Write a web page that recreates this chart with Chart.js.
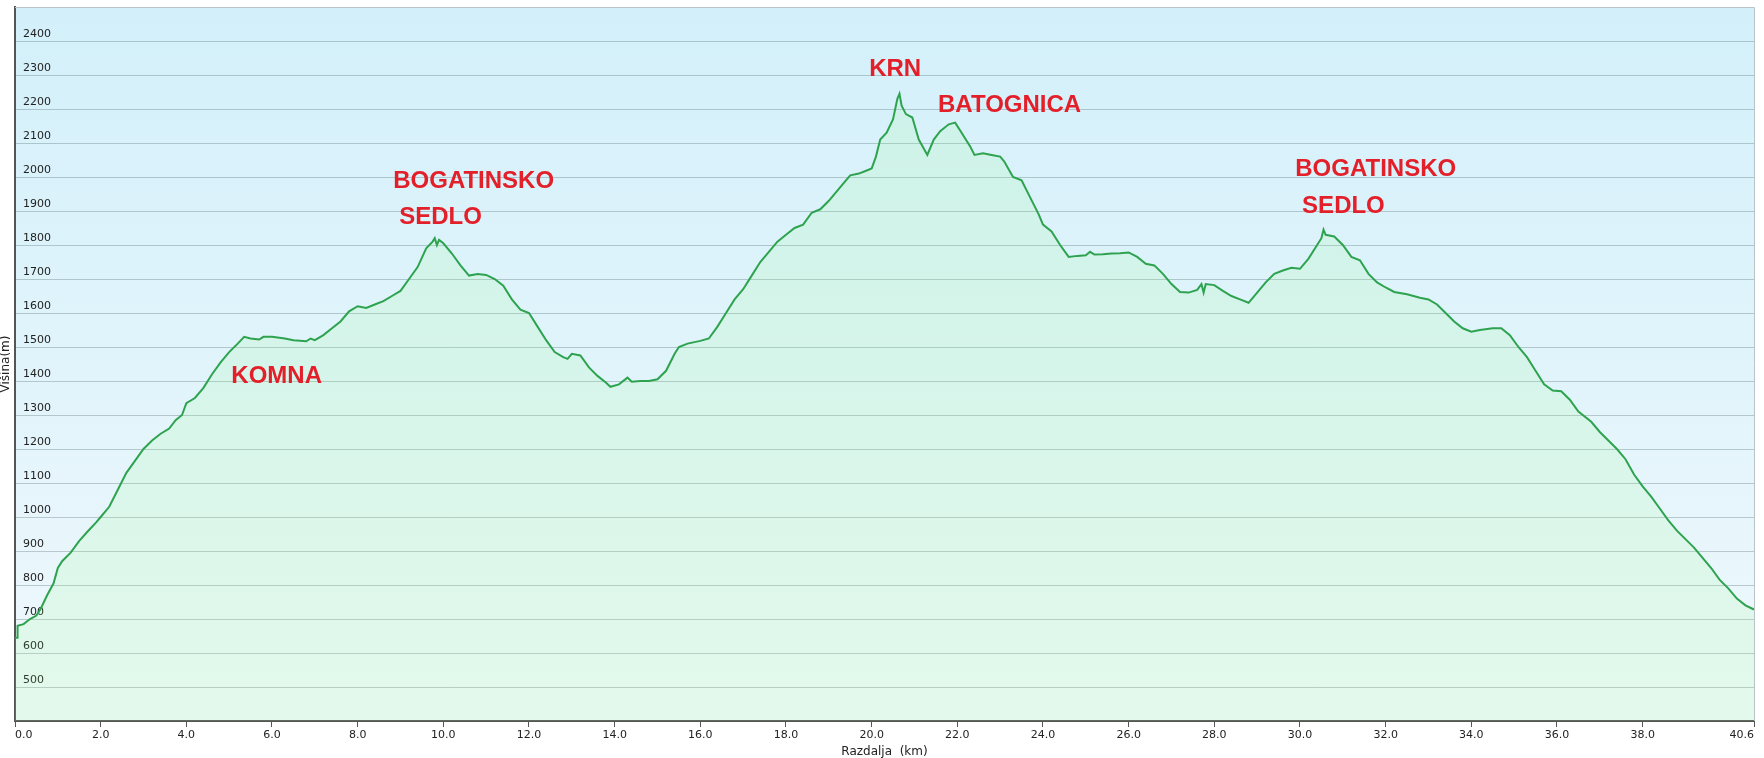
<!DOCTYPE html>
<html>
<head>
<meta charset="utf-8">
<script src="https://cdn.jsdelivr.net/npm/chart.js@4"></script>
<style>
  html, body { margin: 0; padding: 0; background: #ffffff; overflow: hidden; }
  #wrap { width: 1764px; height: 758px; }
</style>
</head>
<body>
<div id="wrap"><canvas id="c" width="1764" height="758"></canvas></div>
<script>
// ---- data ----
const distanceKm = [
  0.0, 0.05, 0.06, 0.2, 0.35, 0.5, 0.6, 0.75, 0.9, 1.0, 1.1, 1.3, 1.5, 1.7, 1.9, 2.0,
  2.2, 2.4, 2.6, 2.8, 3.0, 3.2, 3.4, 3.6, 3.75, 3.9, 4.0, 4.2, 4.4, 4.6, 4.8, 5.0,
  5.2, 5.35, 5.5, 5.7, 5.8, 6.0, 6.3, 6.5, 6.8, 6.9, 7.0, 7.2, 7.4, 7.6, 7.8, 8.0,
  8.2, 8.4, 8.6, 8.8, 9.0, 9.2, 9.4, 9.6, 9.75, 9.8, 9.85, 9.9, 10.0, 10.2, 10.4, 10.6,
  10.8, 11.0, 11.2, 11.4, 11.6, 11.8, 12.0, 12.2, 12.4, 12.6, 12.8, 12.9, 13.0, 13.2,
  13.4, 13.6, 13.8, 13.9, 14.1, 14.3, 14.4, 14.6, 14.8, 15.0, 15.2, 15.4, 15.5, 15.7,
  16.0, 16.2, 16.4, 16.6, 16.8, 17.0, 17.2, 17.4, 17.6, 17.8, 18.0, 18.2, 18.4, 18.6,
  18.8, 19.0, 19.2, 19.4, 19.5, 19.7, 19.9, 20.0, 20.1, 20.2, 20.35, 20.5, 20.6, 20.65,
  20.7, 20.8, 20.95, 21.1, 21.3, 21.45, 21.6, 21.8, 21.95, 22.1, 22.3, 22.4, 22.6, 22.8,
  23.0, 23.1, 23.3, 23.5, 23.7, 23.9, 24.0, 24.2, 24.4, 24.6, 24.8, 25.0, 25.1, 25.2,
  25.4, 25.6, 25.8, 26.0, 26.2, 26.4, 26.6, 26.8, 27.0, 27.2, 27.4, 27.6, 27.7, 27.75,
  27.8, 28.0, 28.2, 28.4, 28.6, 28.8, 29.0, 29.2, 29.4, 29.6, 29.8, 30.0, 30.2, 30.4,
  30.5, 30.55, 30.6, 30.8, 31.0, 31.2, 31.4, 31.6, 31.8, 32.0, 32.2, 32.5, 32.8, 33.0,
  33.2, 33.4, 33.6, 33.8, 34.0, 34.2, 34.5, 34.7, 34.9, 35.1, 35.3, 35.5, 35.7, 35.9,
  36.1, 36.3, 36.5, 36.8, 37.0, 37.2, 37.4, 37.6, 37.8, 38.0, 38.2, 38.4, 38.6, 38.8,
  39.0, 39.2, 39.4, 39.6, 39.8, 40.0, 40.2, 40.4, 40.6
];
const elevationM = [
  645, 645, 680, 685, 700, 710, 730, 770, 805, 850, 870, 895, 930, 958, 985, 1000,
  1030, 1080, 1130, 1165, 1200, 1225, 1245, 1260, 1285, 1300, 1335, 1350, 1380, 1420, 1455, 1485,
  1510, 1530, 1525, 1522, 1530, 1530, 1525, 1520, 1517, 1525, 1520, 1535, 1555, 1575, 1605, 1620,
  1615, 1625, 1635, 1650, 1665, 1700, 1735, 1790, 1810, 1820, 1800, 1815, 1805, 1775, 1740, 1710,
  1715, 1712, 1700, 1680, 1640, 1610, 1600, 1560, 1520, 1485, 1470, 1465, 1480, 1475,
  1440, 1415, 1395, 1383, 1390, 1410, 1398, 1400, 1400, 1405, 1430, 1480, 1500, 1510,
  1518, 1525, 1560, 1600, 1640, 1670, 1710, 1750, 1780, 1810, 1830, 1850, 1860, 1895,
  1905, 1930, 1960, 1990, 2005, 2010, 2020, 2025, 2060, 2110, 2130, 2170, 2230, 2245,
  2210, 2185, 2175, 2110, 2065, 2110, 2135, 2155, 2160, 2130, 2090, 2065, 2070, 2065,
  2060, 2045, 2000, 1990, 1940, 1890, 1860, 1840, 1800, 1765, 1768, 1770, 1780, 1772,
  1773, 1775, 1776, 1778, 1765, 1745, 1740, 1715, 1685, 1662, 1660, 1668, 1685, 1660,
  1685, 1682, 1665, 1650, 1640, 1630, 1660, 1690, 1715, 1725, 1733, 1730, 1760, 1800,
  1820, 1845, 1830, 1825, 1800, 1765, 1755, 1715, 1690, 1675, 1662, 1655, 1645, 1640,
  1625, 1600, 1575, 1555, 1545, 1550, 1555, 1555, 1535, 1500, 1470, 1430, 1390, 1372,
  1370, 1345, 1310, 1280, 1250, 1225, 1200, 1170, 1125, 1090, 1060, 1025, 990, 960,
  935, 910, 880, 850, 815, 790, 760, 740, 728
];
const xTickValues = [0, 2, 4, 6, 8, 10, 12, 14, 16, 18, 20, 22, 24, 26, 28, 30, 32, 34, 36, 38, 40.6];
const yTickMin = 500;
const yTickMax = 2400;
// place names and the (km, m) point each one is anchored at
const placeNames = ['KOMNA', 'BOGATINSKO', 'SEDLO', 'KRN', 'BATOGNICA', 'BOGATINSKO', 'SEDLO'];
const placeKm    = [5.05, 8.83, 8.97, 20.55, 21.55, 29.89, 30.05];
const placeM     = [1414, 1988, 1882, 2318, 2212, 2021, 1915];
const placeAlign = ['left', 'left', 'left', 'center', 'left', 'left', 'left'];

const points = distanceKm.map((d, i) => ({ x: d, y: elevationM[i] }));

const bgPlugin = {
  id: 'bg',
  beforeDraw(chart) {
    const { ctx, chartArea: a } = chart;
    const g = ctx.createLinearGradient(0, a.top, 0, a.bottom);
    g.addColorStop(0, 'rgb(211,240,250)');
    g.addColorStop(1, 'rgb(239,248,252)');
    ctx.save();
    ctx.fillStyle = g;
    ctx.fillRect(a.left, a.top, a.right - a.left, a.bottom - a.top);
    ctx.restore();
  },
  afterDraw(chart) {
    const { ctx, chartArea: a } = chart;
    ctx.save();
    ctx.strokeStyle = '#b8c4c8';
    ctx.lineWidth = 1;
    ctx.beginPath();
    ctx.moveTo(a.left, a.top + 0.5);
    ctx.lineTo(a.right + 0.5, a.top + 0.5);
    ctx.lineTo(a.right + 0.5, a.bottom);
    ctx.stroke();
    ctx.restore();
  }
};

const labelPlugin = {
  id: 'places',
  afterDatasetsDraw(chart) {
    const { ctx, scales } = chart;
    ctx.save();
    ctx.font = 'bold 24px "Liberation Sans", Arial, sans-serif';
    ctx.fillStyle = '#e3202a';
    ctx.textBaseline = 'middle';
    placeNames.forEach((t, i) => {
      ctx.textAlign = placeAlign[i];
      ctx.fillText(t, scales.x.getPixelForValue(placeKm[i]), scales.y.getPixelForValue(placeM[i]));
    });
    ctx.restore();
  }
};

new Chart(document.getElementById('c'), {
  type: 'line',
  data: {
    datasets: [{
      data: points,
      borderColor: '#2ea34f',
      borderWidth: 2,
      backgroundColor: 'rgba(150,255,120,0.13)',
      fill: 'start',
      pointRadius: 0,
      tension: 0
    }]
  },
  options: {
    responsive: false,
    animation: false,
    devicePixelRatio: 1,
    layout: { padding: { top: 7, right: 10, left: 0, bottom: 0 } },
    plugins: { legend: { display: false }, tooltip: { enabled: false } },
    scales: {
      x: {
        type: 'linear',
        min: 0,
        max: 40.6,
        afterBuildTicks(scale) { scale.ticks = xTickValues.map(v => ({ value: v })); },
        afterFit(scale) { scale.height = 37; scale.paddingLeft = 0; scale.paddingRight = 0; },
        grid: { drawOnChartArea: false, drawTicks: true, tickLength: 6, color: '#555', lineWidth: 1 },
        border: { color: '#555', width: 2 },
        ticks: {
          align: 'inner',
          padding: 2,
          maxRotation: 0,
          autoSkip: false,
          color: '#222',
          font: { family: '"DejaVu Sans", Verdana, sans-serif', size: 11 },
          callback: v => Number(v).toFixed(1)
        },
        title: {
          display: true,
          text: 'Razdalja  (km)',
          color: '#222',
          padding: 0,
          font: { family: '"DejaVu Sans", Verdana, sans-serif', size: 12, lineHeight: 1 }
        }
      },
      y: {
        min: 400,
        max: 2500,
        afterFit(scale) { scale.width = 15; scale.paddingTop = 0; scale.paddingBottom = 0; },
        grid: { drawTicks: false, color: 'rgba(70,95,100,0.3)', lineWidth: 1 },
        border: { color: '#555', width: 2 },
        ticks: {
          stepSize: 100,
          mirror: true,
          padding: 8,
          labelOffset: -7,
          color: '#222',
          font: { family: '"DejaVu Sans", Verdana, sans-serif', size: 11 },
          callback: v => (v >= yTickMin && v <= yTickMax) ? String(v) : ''
        },
        title: {
          display: true,
          text: 'Višina(m)',
          color: '#222',
          padding: 0,
          font: { family: '"DejaVu Sans", Verdana, sans-serif', size: 12, lineHeight: 1 }
        }
      }
    }
  },
  plugins: [bgPlugin, labelPlugin]
});
</script>
</body>
</html>
